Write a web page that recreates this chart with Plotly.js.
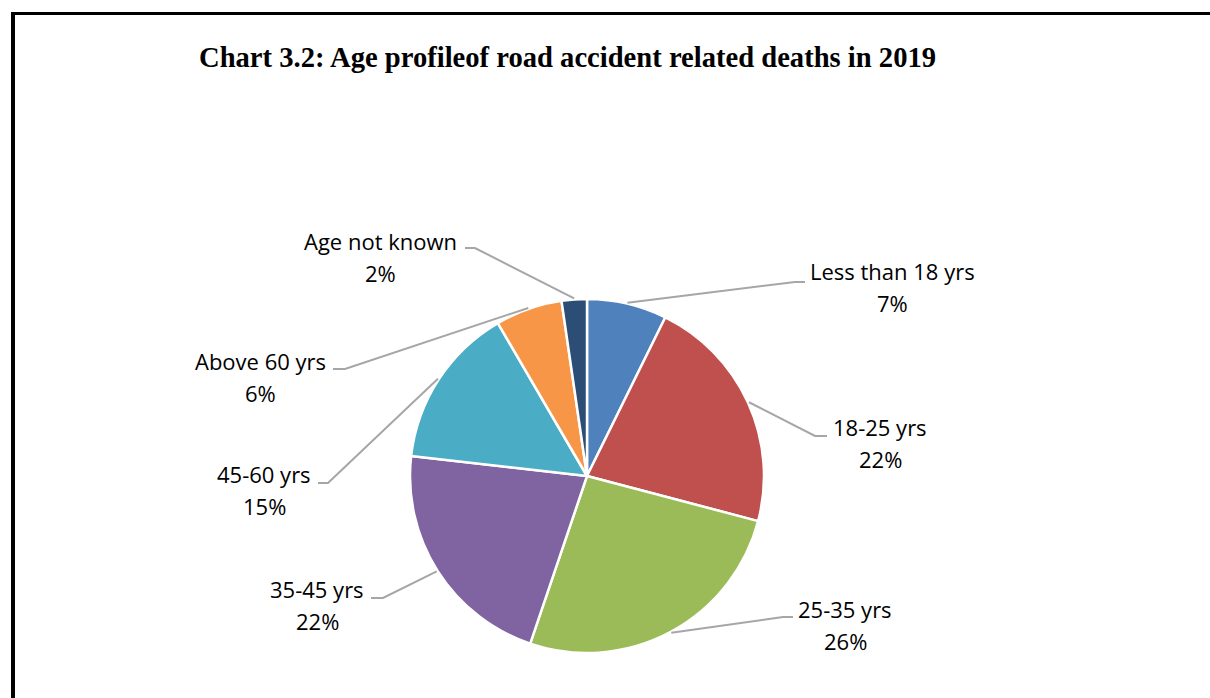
<!DOCTYPE html>
<html>
<head>
<meta charset="utf-8">
<script src="https://cdn.plot.ly/plotly-3.0.1.min.js"></script>
<style>
html,body{margin:0;padding:0;background:#fff;}
#chart{width:1210px;height:698px;}
</style>
</head>
<body>
<div id="chart"></div>
<script>
// ---- data ----
var categories = ["Less than 18 yrs", "18-25 yrs", "25-35 yrs", "35-45 yrs", "45-60 yrs", "Above 60 yrs", "Age not known"];
var shares = [7.3, 21.8, 26.1, 21.6, 14.8, 6.1, 2.3];
var colors = ["#4F81BD", "#C0504D", "#9BBB59", "#8064A2", "#4BACC6", "#F79646", "#2C4D75"];
var titleText = "Chart 3.2: Age profileof road accident related deaths in 2019";

// ---- layout config (pixels) ----
var W = 1210, H = 698;
var CX = 587, CY = 476, R = 177;
// label name centre, elbow of leader line, end of leader line
var labelCfg = [
  {lx: 892, ly: 271, ex: 795, ey: 282, tx: 805},
  {lx: 880, ly: 427, ex: 815, ey: 436, tx: 827},
  {lx: 845, ly: 609, ex: 783, ey: 617, tx: 793},
  {lx: 317, ly: 589, ex: 383, ey: 598, tx: 371},
  {lx: 264, ly: 474, ex: 328, ey: 483, tx: 318},
  {lx: 260, ly: 361, ex: 345, ey: 369, tx: 333},
  {lx: 380, ly: 241, ex: 475, ey: 248, tx: 465}
];
var PCT_DY = 32;

function px(x){ return x / W; }
function py(y){ return (H - y) / H; }

var total = shares.reduce(function(a,b){return a+b;}, 0);
var shapes = [];
var annotations = [];
var cum = 0;
var labelFont = {family: "Open Sans, sans-serif", size: 22, color: "#000"};
for (var i = 0; i < shares.length; i++) {
  var mid = (cum + shares[i] / 2) / total * 2 * Math.PI;
  cum += shares[i];
  var sx = CX + (R + 1) * Math.sin(mid);
  var sy = CY - (R + 1) * Math.cos(mid);
  var c = labelCfg[i];
  shapes.push({
    type: "path", xref: "paper", yref: "paper",
    path: "M " + px(sx) + " " + py(sy) + " L " + px(c.ex) + " " + py(c.ey) + " L " + px(c.tx) + " " + py(c.ey),
    line: {color: "#A6A6A6", width: 2}
  });
  annotations.push({
    xref: "paper", yref: "paper", x: px(c.lx), y: py(c.ly),
    xanchor: "center", yanchor: "middle", showarrow: false,
    text: categories[i], font: labelFont
  });
  annotations.push({
    xref: "paper", yref: "paper", x: px(c.lx), y: py(c.ly + PCT_DY),
    xanchor: "center", yanchor: "middle", showarrow: false,
    text: Math.round(shares[i] / total * 100) + "%", font: labelFont
  });
}

// frame lines
shapes.push({type: "line", xref: "paper", yref: "paper", x0: px(13), x1: px(13), y0: py(12), y1: py(H + 5), line: {color: "#000", width: 4}});
shapes.push({type: "line", xref: "paper", yref: "paper", x0: px(11), x1: px(W + 5), y0: py(13.5), y1: py(13.5), line: {color: "#000", width: 3}});

var trace = {
  type: "pie",
  labels: categories,
  values: shares,
  sort: false,
  direction: "clockwise",
  rotation: 0,
  textinfo: "none",
  hoverinfo: "label+percent",
  marker: {colors: colors, line: {color: "#FFFFFF", width: 2.5}},
  domain: {x: [px(CX - R), px(CX + R)], y: [py(CY + R), py(CY - R)]},
  showlegend: false
};

var layout = {
  width: W, height: H,
  margin: {l: 0, r: 0, t: 0, b: 0},
  paper_bgcolor: "#fff",
  showlegend: false,
  title: {
    text: "<b>" + titleText + "</b>",
    x: px(199), xanchor: "left", xref: "paper",
    y: py(57), yanchor: "middle", yref: "paper",
    font: {family: "Liberation Serif, Times New Roman, serif", size: 28.6, color: "#000"}
  },
  shapes: shapes,
  annotations: annotations
};

Plotly.newPlot("chart", [trace], layout, {displayModeBar: false, staticPlot: true});
</script>
</body>
</html>
